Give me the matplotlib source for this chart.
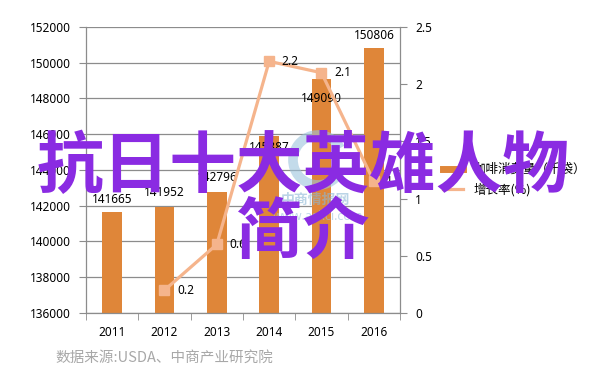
import matplotlib
matplotlib.use("Agg")
import matplotlib.pyplot as plt
from matplotlib.lines import Line2D
from matplotlib.patches import Arc
import numpy as np

years = ["2011", "2012", "2013", "2014", "2015", "2016"]
consumption = [141665, 141952, 142796, 145887, 149090, 150806]
growth = [np.nan, 0.2, 0.6, 2.2, 2.1, 1.15]
growth_labels = ["", "0.2", "0.6", "2.2", "2.1", "1.2"]
left_ticks = [136000, 138000, 140000, 142000, 144000, 146000, 148000, 150000, 152000]
right_ticks = [0, 0.5, 1, 1.5, 2, 2.5]
right_tick_labels = ["0", "0.5", "1", "1.5", "2", "2.5"]
legend_labels = ["咖啡消费量（千袋）", "增长率(%)"]
title_lines = "抗日十大英雄人物\n简介"
source_text = "数据来源:USDA、中商产业研究院"

CJK = ["Noto Sans CJK SC", "DejaVu Sans"]
NUM = ["Noto Sans", "DejaVu Sans"]
BAR_C = "#DF8639"
LINE_C = "#F5B48C"
GRID_C = "#8C8C8C"

fig = plt.figure(figsize=(6.02, 3.84), dpi=100)
ax = fig.add_axes([86/602, 1-313/384, 314/602, 286/384])
x = np.arange(len(years))
ax.bar(x, consumption, width=0.38, color=BAR_C, zorder=2)
ax.set_xlim(-0.5, len(years)-0.5)
ax.set_ylim(136000, 152000)
ax.set_yticks(left_ticks)
ax.set_yticklabels([str(v) for v in left_ticks], fontsize=8.5, family=NUM)
ax.yaxis.grid(True, color=GRID_C, linewidth=0.9, zorder=0)
ax.set_axisbelow(True)
ax.set_xticks(x)
ax.set_xticklabels(years, fontsize=8.5, family=NUM)
ax.set_xticks(np.arange(len(years)+1)-0.5, minor=True)
ax.tick_params(axis='x', which='major', length=0, pad=9)
ax.tick_params(axis='x', which='minor', length=5, color=GRID_C)
ax.tick_params(axis='y', length=5, color=GRID_C, pad=6)
for s in ["top", "right"]:
    ax.spines[s].set_visible(False)
for s in ["left", "bottom"]:
    ax.spines[s].set_color(GRID_C)
    ax.spines[s].set_linewidth(0.9)

# bar labels (offset in points)
offs = [9, 10, 10, -8, -14, 9]
for xi, v, o in zip(x, consumption, offs):
    ax.annotate(str(v), (xi, v), xytext=(0, o), textcoords="offset points",
                ha="center", va="center", fontsize=8.5, family=NUM, zorder=5)

ax2 = ax.twinx()
ax2.set_ylim(0, 2.5)
ax2.set_yticks(right_ticks)
ax2.set_yticklabels(right_tick_labels, fontsize=8.5, family=NUM)
ax2.tick_params(axis='y', length=5, color=GRID_C, pad=6)
for s in ["top", "left", "bottom"]:
    ax2.spines[s].set_visible(False)
ax2.spines["right"].set_color(GRID_C)
ax2.spines["right"].set_linewidth(0.9)
ax2.plot(x, growth, color=LINE_C, linewidth=2.3, marker="s", markersize=7,
         markerfacecolor=LINE_C, markeredgecolor=LINE_C, zorder=4)
for xi, g, lab in zip(x, growth, growth_labels):
    if lab:
        ax2.annotate(lab, (xi, g), xytext=(9, 0), textcoords="offset points",
                     ha="left", va="center", fontsize=8.5, family=NUM, zorder=5)

# legend
handles = [Line2D([], [], color=BAR_C, linewidth=5),
           Line2D([], [], color=LINE_C, linewidth=2.3)]
fig.legend(handles, legend_labels, loc="upper left",
           bbox_to_anchor=(432/602, 1-152/384), frameon=False,
           prop={"family": CJK, "size": 9}, handlelength=1.6,
           handletextpad=0.8, labelspacing=0.55)

# watermark
fig.text(315/602, 1-200/384, "中商情报网", fontsize=10, family=CJK,
         color="#8DB8D6", alpha=0.6, ha="center", va="center", weight="bold")
fig.text(318/602, 1-217/384, "www.askci.com", fontsize=9, family=NUM,
         color="#9CC3DC", alpha=0.6, ha="center", va="center")
fig.add_artist(Arc((318/602, 1-160/384), 50/602, 50/384, theta1=40, theta2=320,
                   transform=fig.transFigure, color="#9CC3DC", alpha=0.6, linewidth=7))

# source
fig.text(55/602, 1-358/384, source_text, fontsize=10.5, family=CJK,
         color="#A8A8A8", ha="left", va="center")

# overlay title
fig.text(303/602, 1-200/384, title_lines, fontsize=48, family=CJK, weight="bold",
         color="#8A2BE2", ha="center", va="center", linespacing=0.98, zorder=10)

fig.savefig("out.png", dpi=100)
